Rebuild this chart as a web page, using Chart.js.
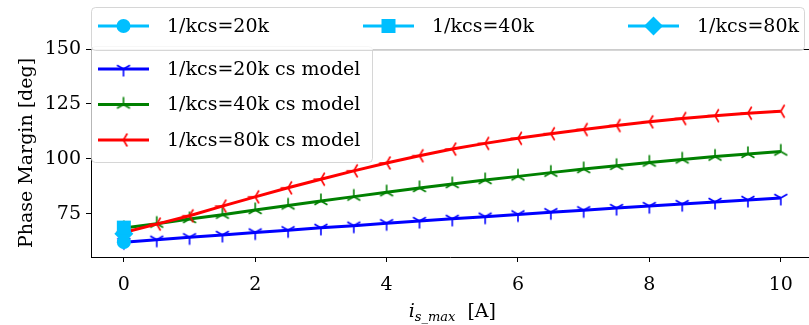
<!DOCTYPE html>
<html>
<head>
<meta charset="utf-8">
<script src="https://cdn.jsdelivr.net/npm/chart.js@4.4.0/dist/chart.umd.min.js"></script>
<style>
  html, body { margin: 0; padding: 0; background: #fff; }
  #wrap { width: 809px; height: 325px; }
</style>
</head>
<body>
<div id="wrap"><canvas id="pm" width="809" height="325"></canvas></div>
<script>
// current sweep [A]
var currents = [0, 0.5, 1, 1.5, 2, 2.5, 3, 3.5, 4, 4.5, 5, 5.5, 6, 6.5, 7, 7.5, 8, 8.5, 9, 9.5, 10];

// phase margin from the cs model [deg]
var pm20kModel = [62.2, 63.3, 64.4, 65.5, 66.6, 67.6, 68.7, 69.7, 70.8, 71.8, 72.8, 73.8, 74.8, 75.8, 76.7, 77.7, 78.6, 79.5, 80.5, 81.4, 82.3];
var pm40kModel = [68.6, 70.6, 72.7, 74.7, 76.8, 78.9, 80.9, 82.9, 84.9, 86.8, 88.6, 90.4, 92.1, 93.8, 95.4, 96.9, 98.4, 99.8, 101.1, 102.3, 103.4];
var pm80kModel = [66.6, 70.4, 74.2, 78.6, 82.8, 86.9, 90.8, 94.6, 98.2, 101.5, 104.5, 107.1, 109.4, 111.5, 113.4, 115.2, 116.9, 118.4, 119.7, 120.8, 121.7];

// measured points at zero current
var pm20k = [62.2];
var pm40k = [68.8];
var pm80k = [66.0];
var measuredAt = [0];

var xTicks = [0, 2, 4, 6, 8, 10];
var yTicks = [75, 100, 125, 150];

var SERIF = '"DejaVu Serif", serif';
var CYAN = "#00bfff";

function pairs(xs, ys) {
  return ys.map(function (y, i) { return { x: xs[i], y: y }; });
}

// matplotlib style tri markers: three spokes from the centre
function triMarker(color, angle) {
  var c = document.createElement("canvas");
  c.width = 20; c.height = 20;
  var g = c.getContext("2d");
  g.strokeStyle = color;
  g.lineWidth = 1.6;
  g.translate(10, 10);
  g.beginPath();
  for (var k = 0; k < 3; k++) {
    var a = angle + k * 2 * Math.PI / 3;
    g.moveTo(0, 0);
    g.lineTo(7.5 * Math.cos(a), 7.5 * Math.sin(a));
  }
  g.stroke();
  return c;
}

function drawShape(ctx, shape, x, y) {
  ctx.beginPath();
  if (shape === "circle") {
    ctx.arc(x, y, 7, 0, Math.PI * 2);
  } else if (shape === "rect") {
    ctx.rect(x - 7, y - 7, 14, 14);
  } else {
    ctx.moveTo(x, y - 9.5); ctx.lineTo(x + 9.5, y); ctx.lineTo(x, y + 9.5); ctx.lineTo(x - 9.5, y);
    ctx.closePath();
  }
  ctx.fill();
}

function drawHandle(ctx, ds, x, y) {
  ctx.save();
  ctx.strokeStyle = ds.borderColor;
  ctx.lineWidth = 3;
  ctx.beginPath();
  ctx.moveTo(x, y);
  ctx.lineTo(x + 51, y);
  ctx.stroke();
  if (typeof ds.pointStyle === "string") {
    ctx.fillStyle = ds.backgroundColor;
    drawShape(ctx, ds.pointStyle, x + 25.5, y);
  } else {
    ctx.drawImage(ds.pointStyle, x + 25.5 - 10, y - 10);
  }
  ctx.restore();
}

function legendBox(ctx, x0, y0, x1, y1) {
  ctx.save();
  ctx.fillStyle = "rgba(255,255,255,0.8)";
  ctx.strokeStyle = "rgba(204,204,204,0.8)";
  ctx.lineWidth = 1;
  ctx.beginPath();
  ctx.roundRect(x0 + 0.5, y0 + 0.5, x1 - x0, y1 - y0, 4);
  ctx.fill();
  ctx.stroke();
  ctx.restore();
}

var decor = {
  id: "decor",
  afterDraw: function (chart) {
    var ctx = chart.ctx;
    var area = chart.chartArea;
    var xs = chart.scales.x;
    var dsets = chart.data.datasets;

    // top spine
    ctx.save();
    ctx.strokeStyle = "#000";
    ctx.lineWidth = 1;
    ctx.beginPath();
    ctx.moveTo(area.left, area.top + 0.5);
    ctx.lineTo(area.right, area.top + 0.5);
    ctx.stroke();
    ctx.restore();

    ctx.save();
    ctx.font = "19px " + SERIF;
    ctx.fillStyle = "#000";
    ctx.textBaseline = "middle";

    // model legend, upper left inside the axes
    legendBox(ctx, 91, 46, 372, 162);
    var rows = [69, 104.5, 140];
    for (var i = 0; i < 3; i++) {
      drawHandle(ctx, dsets[3 + i], 98, rows[i]);
      ctx.fillText(dsets[3 + i].label, 167, rows[i] + 1);
    }

    // measured legend, one row above the axes
    legendBox(ctx, 91, 7, 804, 50);
    var cols = [98, 363, 628];
    for (var j = 0; j < 3; j++) {
      drawHandle(ctx, dsets[j], cols[j], 26);
      ctx.fillText(dsets[j].label, cols[j] + 69, 27);
    }
    ctx.restore();

    // axis labels
    ctx.save();
    ctx.fillStyle = "#000";
    ctx.textBaseline = "alphabetic";
    var parts = [
      { t: "i", f: "italic 19px " + SERIF, dy: 0 },
      { t: "s_max", f: "italic 13px " + SERIF, dy: 4 },
      { t: "  [A]", f: "19px " + SERIF, dy: 0 }
    ];
    var total = 0;
    parts.forEach(function (p) { ctx.font = p.f; p.w = ctx.measureText(p.t).width; total += p.w; });
    var cx = xs.getPixelForValue(5) - total / 2;
    var base = 317;
    parts.forEach(function (p) {
      ctx.font = p.f;
      ctx.fillText(p.t, cx, base + p.dy);
      cx += p.w;
    });

    ctx.translate(32, (area.top + area.bottom) / 2);
    ctx.rotate(-Math.PI / 2);
    ctx.font = "19px " + SERIF;
    ctx.textAlign = "center";
    ctx.fillText("Phase Margin [deg]", 0, 0);
    ctx.restore();
  }
};

var ctx = document.getElementById("pm");
var chartGraph = new Chart(ctx, {
  type: "line",
  data: {
    datasets: [{
      label: "1/kcs=20k",
      data: pairs(measuredAt, pm20k),
      showLine: false,
      pointStyle: "circle",
      pointRadius: 7,
      borderColor: CYAN,
      backgroundColor: CYAN,
      pointBorderWidth: 0,
      order: 0
    }, {
      label: "1/kcs=40k",
      data: pairs(measuredAt, pm40k),
      showLine: false,
      pointStyle: "rect",
      pointRadius: 9.9,
      borderColor: CYAN,
      backgroundColor: CYAN,
      pointBorderWidth: 0,
      order: 0
    }, {
      label: "1/kcs=80k",
      data: pairs(measuredAt, pm80k),
      showLine: false,
      pointStyle: "rectRot",
      pointRadius: 9.5,
      borderColor: CYAN,
      backgroundColor: CYAN,
      pointBorderWidth: 0,
      order: 0
    }, {
      label: "1/kcs=20k cs model",
      data: pairs(currents, pm20kModel),
      borderColor: "#0000ff",
      borderWidth: 3,
      pointStyle: triMarker("#0000ff", Math.PI / 2),
      pointRadius: 7,
      order: 3
    }, {
      label: "1/kcs=40k cs model",
      data: pairs(currents, pm40kModel),
      borderColor: "#008000",
      borderWidth: 3,
      pointStyle: triMarker("#008000", -Math.PI / 2),
      pointRadius: 7,
      order: 2
    }, {
      label: "1/kcs=80k cs model",
      data: pairs(currents, pm80kModel),
      borderColor: "#ff0000",
      borderWidth: 3,
      pointStyle: triMarker("#ff0000", Math.PI),
      pointRadius: 7,
      order: 1
    }]
  },
  options: {
    responsive: false,
    animation: false,
    layout: { autoPadding: false, padding: { top: 49, right: 0, left: 0, bottom: 0 } },
    plugins: { legend: { display: false }, tooltip: { enabled: false } },
    scales: {
      x: {
        type: "linear",
        min: -0.5,
        max: 10.43,
        afterBuildTicks: function (s) { s.ticks = xTicks.map(function (v) { return { value: v }; }); },
        afterFit: function (s) { s.height = 68; s.paddingLeft = 0; s.paddingRight = 0; },
        grid: { drawOnChartArea: false, tickLength: 5, tickColor: "#000", tickWidth: 1 },
        border: { color: "#000", width: 1 },
        ticks: { font: { family: SERIF, size: 19 }, color: "#000", padding: 12, maxRotation: 0 }
      },
      y: {
        type: "linear",
        min: 55.45,
        max: 150,
        afterBuildTicks: function (s) { s.ticks = yTicks.map(function (v) { return { value: v }; }); },
        afterFit: function (s) { s.width = 91; },
        grid: { drawOnChartArea: false, tickLength: 5, tickColor: "#000", tickWidth: 1 },
        border: { color: "#000", width: 1 },
        ticks: { font: { family: SERIF, size: 19 }, color: "#000", padding: 5 }
      }
    }
  },
  plugins: [decor]
});
</script>
</body>
</html>
